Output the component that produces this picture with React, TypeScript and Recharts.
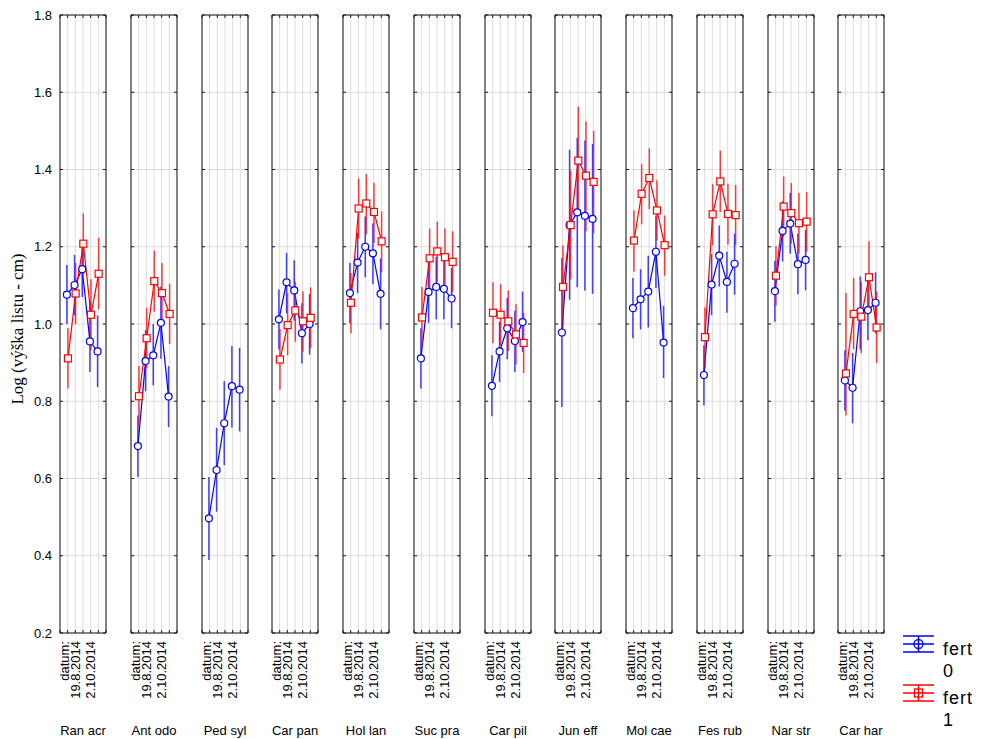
import React from 'react';
import { LineChart, Line, XAxis, YAxis, CartesianGrid, ErrorBar } from 'recharts';

// species (one panel each) and sampling dates
const SPECIES = ['Ran acr', 'Ant odo', 'Ped syl', 'Car pan', 'Hol lan', 'Suc pra', 'Car pil', 'Jun eff', 'Mol cae', 'Fes rub', 'Nar str', 'Car har'];
const DATE_POS = [1, 2, 3, 4, 5];
const DATE_LABELS = ['', '19.8.2014', '', '2.10.2014', ''];
const Y_TICKS = [0.2, 0.4, 0.6, 0.8, 1.0, 1.2, 1.4, 1.6, 1.8];
const GRID_X = [0, 1, 2, 3, 4, 5, 6];

// fert = 0 : mean and confidence limits
const FERT0_MEAN = [
  [1.076, 1.101, 1.142, 0.955, 0.929],
  [0.684, 0.904, 0.919, 1.003, 0.812],
  [0.497, 0.622, 0.743, 0.839, 0.830],
  [1.012, 1.108, 1.087, 0.976, 1.0],
  [1.08, 1.159, 1.2, 1.183, 1.078],
  [0.911, 1.083, 1.096, 1.091, 1.066],
  [0.84, 0.929, 0.989, 0.956, 1.005],
  [0.978, 1.256, 1.289, 1.28, 1.272],
  [1.041, 1.064, 1.084, 1.187, 0.952],
  [0.868, 1.102, 1.177, 1.109, 1.156],
  [1.085, 1.241, 1.26, 1.155, 1.166],
  [0.854, 0.835, 1.033, 1.036, 1.055],
];
const FERT0_LOW = [
  [1.0, 1.022, 1.07, 0.876, 0.837],
  [0.604, 0.826, 0.841, 0.91, 0.733],
  [0.389, 0.514, 0.634, 0.732, 0.722],
  [0.934, 1.028, 1.009, 0.898, 0.921],
  [1.002, 1.08, 1.121, 1.103, 0.986],
  [0.833, 1.003, 1.012, 1.012, 0.989],
  [0.761, 0.85, 0.909, 0.876, 0.928],
  [0.785, 1.063, 1.095, 1.087, 1.078],
  [0.963, 0.986, 0.991, 1.093, 0.86],
  [0.789, 1.023, 1.097, 1.029, 1.076],
  [1.006, 1.162, 1.182, 1.077, 1.087],
  [0.776, 0.743, 0.934, 0.958, 0.976],
];
const FERT0_HIGH = [
  [1.153, 1.179, 1.21, 1.058, 1.022],
  [0.763, 0.984, 1.0, 1.097, 0.891],
  [0.604, 0.731, 0.852, 0.943, 0.938],
  [1.089, 1.184, 1.165, 1.054, 1.077],
  [1.158, 1.236, 1.278, 1.26, 1.17],
  [0.989, 1.161, 1.174, 1.169, 1.145],
  [0.919, 1.006, 1.067, 1.034, 1.084],
  [1.171, 1.451, 1.482, 1.475, 1.466],
  [1.119, 1.142, 1.177, 1.281, 1.047],
  [0.945, 1.181, 1.255, 1.187, 1.234],
  [1.164, 1.318, 1.339, 1.234, 1.244],
  [0.932, 0.925, 1.123, 1.115, 1.134],
];

// fert = 1 (no data for Ped syl)
const FERT1_MEAN = [
  [0.911, 1.079, 1.208, 1.024, 1.13],
  [0.813, 0.963, 1.111, 1.08, 1.026],
  null,
  [0.908, 0.997, 1.035, 1.007, 1.016],
  [1.055, 1.299, 1.312, 1.29, 1.214],
  [1.017, 1.17, 1.188, 1.173, 1.161],
  [1.029, 1.024, 1.007, 0.973, 0.951],
  [1.096, 1.256, 1.423, 1.384, 1.368],
  [1.216, 1.337, 1.378, 1.294, 1.204],
  [0.966, 1.284, 1.369, 1.285, 1.282],
  [1.125, 1.304, 1.287, 1.261, 1.265],
  [0.872, 1.026, 1.019, 1.121, 0.991],
];
const FERT1_LOW = [
  [0.833, 1.0, 1.128, 0.932, 1.038],
  [0.735, 0.885, 1.032, 1.002, 0.948],
  null,
  [0.83, 0.919, 0.954, 0.928, 0.937],
  [0.976, 1.221, 1.232, 1.21, 1.134],
  [0.939, 1.091, 1.108, 1.091, 1.082],
  [0.95, 0.945, 0.93, 0.895, 0.873],
  [0.99, 1.115, 1.284, 1.24, 1.235],
  [1.136, 1.258, 1.297, 1.216, 1.125],
  [0.887, 1.204, 1.29, 1.206, 1.204],
  [1.047, 1.226, 1.208, 1.182, 1.186],
  [0.763, 0.935, 0.925, 1.028, 0.899],
];
const FERT1_HIGH = [
  [0.989, 1.158, 1.286, 1.116, 1.223],
  [0.891, 1.042, 1.19, 1.158, 1.104],
  null,
  [0.987, 1.08, 1.11, 1.084, 1.095],
  [1.132, 1.377, 1.388, 1.366, 1.291],
  [1.096, 1.247, 1.265, 1.247, 1.24],
  [1.108, 1.103, 1.087, 1.051, 1.029],
  [1.203, 1.397, 1.563, 1.524, 1.5],
  [1.294, 1.414, 1.455, 1.372, 1.281],
  [1.043, 1.362, 1.449, 1.363, 1.36],
  [1.201, 1.382, 1.365, 1.339, 1.342],
  [1.08, 1.119, 1.11, 1.214, 1.084],
];

const SANS = "'Liberation Sans', Arial, sans-serif";
const SERIF = "'Liberation Serif', 'Times New Roman', serif";
const BLUE = '#0000ff';
const RED = '#ff0000';
const FRAME = '#1a1a1a';
const GRID = '#dcdcdc';

const W = 981;
const H = 739;
const PLOT_TOP = 15;
const PANEL_W = 46;
const PANEL_STEP = 70.77;
const FIRST_LEFT = 60;

function buildRows(k: number) {
  return DATE_POS.map((pos, i) => {
    const row: any = { pos };
    const m0 = FERT0_MEAN[k][i];
    row.f0 = m0;
    row.f0Err = [m0 - FERT0_LOW[k][i], FERT0_HIGH[k][i] - m0];
    const m1s = FERT1_MEAN[k];
    if (m1s) {
      const m1 = m1s[i];
      row.f1 = m1;
      row.f1Err = [m1 - FERT1_LOW[k]![i], FERT1_HIGH[k]![i] - m1];
    }
    return row;
  });
}

// frame axes keep their tick marks but show no text
const NoLabel = () => <g />;

const DateTick = (props: any) => {
  const { x, y, payload } = props;
  const label = DATE_LABELS[DATE_POS.indexOf(payload.value)];
  return (
    <g>
      {payload.value === 1 && (
        <text x={x - 3} y={y} dy="0.35em" transform={`rotate(-90 ${x - 3} ${y})`} textAnchor="end" fontFamily={SANS} fontSize={13} fill="#000">
          datum:
        </text>
      )}
      {label && (
        <text x={x} y={y} dy="0.35em" transform={`rotate(-90 ${x} ${y})`} textAnchor="end" fontFamily={SANS} fontSize={13} fill="#000">
          {label}
        </text>
      )}
    </g>
  );
};

const squareDot = (props: any) => {
  const { cx, cy, index } = props;
  if (cx == null || cy == null) return <g key={`sq-${index}`} />;
  return <rect key={`sq-${index}`} x={cx - 3.5} y={cy - 3.5} width={7} height={7} fill="#fff" stroke={RED} strokeWidth={1.2} />;
};

function Panel({ k }: { k: number }) {
  const first = k === 0;
  const plotLeft = Math.round(FIRST_LEFT + k * PANEL_STEP);
  const padL = first ? plotLeft : 2;
  const padR = 2;
  const rows = buildRows(k);
  const name = SPECIES[k];
  return (
    <div style={{ position: 'absolute', left: plotLeft - padL, top: 0 }}>
      <LineChart
        width={padL + PANEL_W + padR}
        height={H}
        data={rows}
        margin={{ top: PLOT_TOP, right: padR, bottom: 6, left: first ? padL - 40 : padL }}
      >
        <CartesianGrid xAxisId="grid" yAxisId="v" stroke={GRID} strokeWidth={1} />
        <XAxis xAxisId="grid" dataKey="pos" type="number" domain={[0, 6]} ticks={GRID_X} orientation="top" mirror
          tick={NoLabel} tickSize={3} axisLine={{ stroke: FRAME }} tickLine={{ stroke: FRAME }} interval={0} />
        <XAxis xAxisId="bot" dataKey="pos" type="number" domain={[0, 6]} ticks={GRID_X} orientation="bottom" mirror
          tick={NoLabel} tickSize={3} axisLine={{ stroke: FRAME }} tickLine={{ stroke: FRAME }} interval={0} />
        <XAxis xAxisId="lab" dataKey="pos" type="number" domain={[0, 6]} ticks={DATE_POS} orientation="bottom" height={100}
          axisLine={false} tickLine={false} tick={<DateTick />} interval={0}
          label={{
            content: (p: any) => {
              const vb = p.viewBox || {};
              return (
                <text x={vb.x + vb.width / 2} y={vb.y + 102} textAnchor="middle" fontFamily={SANS} fontSize={13} fill="#000">
                  {name}
                </text>
              );
            },
          }} />
        <XAxis xAxisId="s0" dataKey="pos" type="number" domain={[0.1, 6.1]} hide />
        <XAxis xAxisId="s1" dataKey="pos" type="number" domain={[-0.04, 5.96]} hide />
        <YAxis yAxisId="v" type="number" domain={[0.2, 1.8]} ticks={Y_TICKS} hide={!first} width={40}
          axisLine={false} tickLine={false} allowDataOverflow interval={0}
          tickFormatter={(v: number) => v.toFixed(1)}
          tick={{ fontFamily: SANS, fontSize: 13, fill: '#000' }} />
        <YAxis yAxisId="l" type="number" domain={[0.2, 1.8]} ticks={Y_TICKS} orientation="left" mirror tick={NoLabel}
          tickSize={3} axisLine={{ stroke: FRAME }} tickLine={{ stroke: FRAME }} allowDataOverflow interval={0} />
        <YAxis yAxisId="r" type="number" domain={[0.2, 1.8]} ticks={Y_TICKS} orientation="right" mirror tick={NoLabel}
          tickSize={3} axisLine={{ stroke: FRAME }} tickLine={{ stroke: FRAME }} allowDataOverflow interval={0} />
        <Line xAxisId="s0" yAxisId="v" dataKey="f0" stroke={BLUE} strokeWidth={1.2} isAnimationActive={false}
          dot={{ r: 3.5, fill: '#fff', stroke: BLUE, strokeWidth: 1.2 }} activeDot={false}>
          <ErrorBar dataKey="f0Err" direction="y" width={0} stroke={BLUE} strokeWidth={1.5} strokeOpacity={0.75} />
        </Line>
        {FERT1_MEAN[k] && (
          <Line xAxisId="s1" yAxisId="v" dataKey="f1" stroke={RED} strokeWidth={1.2} isAnimationActive={false}
            dot={squareDot} activeDot={false}>
            <ErrorBar dataKey="f1Err" direction="y" width={0} stroke={RED} strokeWidth={1.5} strokeOpacity={0.75} />
          </Line>
        )}
      </LineChart>
    </div>
  );
}

function LegendAndTitle() {
  const items = [
    { color: BLUE, label: '0', top: 636, square: false },
    { color: RED, label: '1', top: 685, square: true },
  ];
  return (
    <svg width={W} height={H} style={{ position: 'absolute', left: 0, top: 0, pointerEvents: 'none' }}>
      <text x={17} y={329} dy="0.35em" transform="rotate(-90 17 329)" textAnchor="middle" fontFamily={SERIF} fontSize={17} fill="#000">
        Log (výška listu - cm)
      </text>
      {items.map((it) => {
        const cx = 918.5;
        const mid = it.top + 8;
        return (
          <g key={it.label}>
            <line x1={903} x2={934} y1={it.top} y2={it.top} stroke={it.color} strokeWidth={1.5} />
            <line x1={903} x2={934} y1={mid} y2={mid} stroke={it.color} strokeWidth={1.5} />
            <line x1={903} x2={934} y1={it.top + 16} y2={it.top + 16} stroke={it.color} strokeWidth={1.5} />
            <line x1={cx} x2={cx} y1={it.top} y2={it.top + 16} stroke={it.color} strokeWidth={1.5} />
            {it.square ? (
              <rect x={cx - 4} y={mid - 4} width={8} height={8} fill="none" stroke={it.color} strokeWidth={1.3} />
            ) : (
              <circle cx={cx} cy={mid} r={4.5} fill="none" stroke={it.color} strokeWidth={1.3} />
            )}
            <text x={943} y={it.top + 19} fontFamily={SANS} fontSize={18} letterSpacing={1} fill="#000">fert</text>
            <text x={943} y={it.top + 41} fontFamily={SANS} fontSize={18} fill="#000">{it.label}</text>
          </g>
        );
      })}
    </svg>
  );
}

export default function App() {
  return (
    <div style={{ position: 'absolute', left: 0, top: 0, width: W, height: H, background: '#fff', overflow: 'hidden' }}>
      {SPECIES.map((_, k) => (
        <Panel key={k} k={k} />
      ))}
      <LegendAndTitle />
    </div>
  );
}
